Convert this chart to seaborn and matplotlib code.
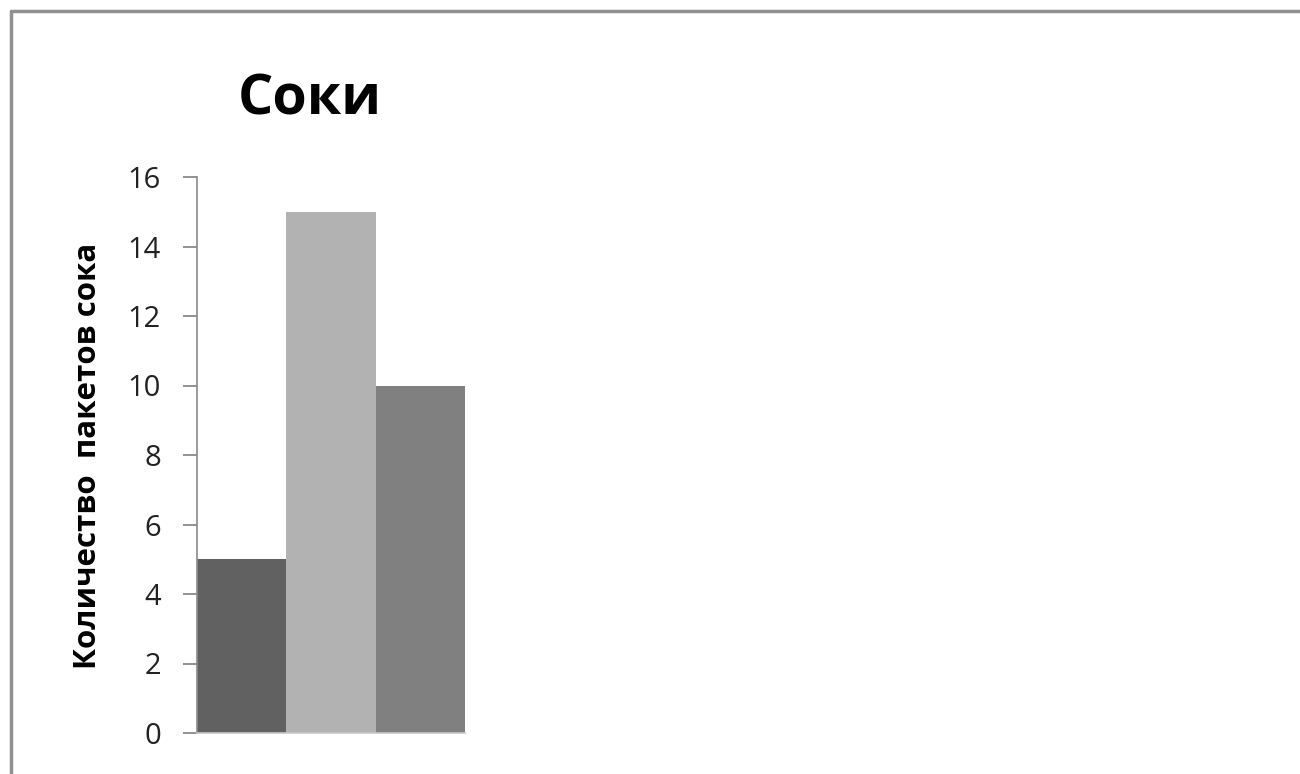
import matplotlib
matplotlib.use('Agg')
import matplotlib.pyplot as plt
import seaborn as sns
import pandas as pd
from matplotlib.lines import Line2D

# Data
categories = ['Сок 1', 'Сок 2', 'Сок 3']
values = [5, 15, 10]
bar_colors = ['#616161', '#b2b2b2', '#808080']
y_ticks = [0, 2, 4, 6, 8, 10, 12, 14, 16]

df = pd.DataFrame({'cat': categories, 'val': values})

sns.set_theme(style='white')
plt.rcParams['font.family'] = ['Open Sans', 'DejaVu Sans']

fig = plt.figure(figsize=(13, 7.74), dpi=100)
W, H = 1300, 774
ax = fig.add_axes([197 / W, 41 / H, (465 - 197) / W, (733 - 177) / H])

sns.barplot(data=df, x='cat', y='val', hue='cat', palette=bar_colors,
            width=1.0, saturation=1, legend=False, ax=ax, edgecolor='none')

ax.set_xlim(-0.5, 2.5)
ax.set_ylim(0, 16)
ax.set_yticks(y_ticks)
ax.set_xticks([])
ax.tick_params(axis='y', direction='out', length=10, width=1.2, color='#808080',
               labelsize=21, pad=16, left=True, labelcolor='#222222')
ax.set_xlabel('')
ax.set_ylabel('')
for s in ['top', 'right']:
    ax.spines[s].set_visible(False)
ax.spines['left'].set_color('#8a8a8a')
ax.spines['left'].set_linewidth(1.2)
ax.spines['bottom'].set_color('#c8c8c8')
ax.spines['bottom'].set_linewidth(1.2)

fig.text(310 / W, 1 - 100 / H, 'Соки', ha='center', va='center',
         fontsize=40, fontweight='bold', color='black')
fig.text(88 / W, 1 - 456 / H, 'Количество  пакетов сока', rotation=90,
         ha='center', va='center', fontsize=22.5, fontweight='bold', color='black')

# outer frame (top and left)
fig.add_artist(Line2D([11 / W, 1], [1 - 11 / H, 1 - 11 / H], color='#909090', lw=2.5,
                      transform=fig.transFigure))
fig.add_artist(Line2D([11 / W, 11 / W], [0, 1 - 11 / H], color='#909090', lw=2.5,
                      transform=fig.transFigure))

fig.savefig('out.png', dpi=100, facecolor='white')
